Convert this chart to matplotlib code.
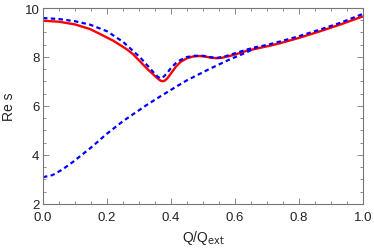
import matplotlib
matplotlib.use("Agg")
import matplotlib.pyplot as plt
from matplotlib.ticker import MultipleLocator

# Red solid curve (exact)
q_red = [0.0, 0.05, 0.10, 0.147, 0.178, 0.22, 0.26, 0.281, 0.303, 0.33, 0.35, 0.36, 0.368, 0.374, 0.38, 0.388, 0.40, 0.415, 0.43, 0.45, 0.469, 0.49, 0.51, 0.525, 0.543, 0.56, 0.58, 0.60, 0.636, 0.68, 0.709, 0.74, 0.80, 0.866, 0.93, 1.0]
v_red = [9.48, 9.44, 9.33, 9.14, 8.94, 8.66, 8.33, 8.12, 7.82, 7.46, 7.22, 7.10, 7.03, 7.01, 7.03, 7.12, 7.33, 7.60, 7.80, 7.95, 8.02, 8.04, 8.01, 7.97, 7.95, 7.97, 8.03, 8.10, 8.25, 8.38, 8.46, 8.56, 8.78, 9.05, 9.33, 9.66]

# Blue dashed, upper branch
q_up = [0.0, 0.05, 0.10, 0.147, 0.20, 0.25, 0.303, 0.33, 0.35, 0.358, 0.366, 0.374, 0.385, 0.40, 0.415, 0.43, 0.45, 0.475, 0.50, 0.525, 0.543, 0.57, 0.60, 0.636, 0.67]
v_up = [9.59, 9.55, 9.46, 9.32, 9.05, 8.62, 7.99, 7.60, 7.30, 7.20, 7.13, 7.16, 7.30, 7.55, 7.75, 7.88, 8.00, 8.05, 8.05, 7.99, 7.96, 8.03, 8.15, 8.30, 8.42]

# Blue dashed, lower branch
q_lo = [0.0, 0.03, 0.06, 0.095, 0.15, 0.199, 0.25, 0.324, 0.37, 0.4125, 0.45, 0.52, 0.58, 0.636, 0.668, 0.709, 0.74, 0.80, 0.866, 0.93, 1.0]
v_lo = [3.09, 3.18, 3.40, 3.73, 4.30, 4.86, 5.38, 6.04, 6.42, 6.76, 7.05, 7.51, 7.88, 8.19, 8.40, 8.52, 8.63, 8.85, 9.12, 9.40, 9.76]

x_ticks = [0.0, 0.2, 0.4, 0.6, 0.8, 1.0]
x_ticklabels = ["0.0", "0.2", "0.4", "0.6", "0.8", "1.0"]
y_ticks = [2, 4, 6, 8, 10]
y_ticklabels = ["2", "4", "6", "8", "10"]

plt.rcParams['font.family'] = ['Liberation Sans', 'DejaVu Sans']

fig = plt.figure(figsize=(3.74, 2.53), dpi=100)
ax = fig.add_axes([0.115, 0.190, 0.8556, 0.7744])

ax.plot(q_red, v_red, color='#ff0000', lw=1.7, solid_capstyle='butt', solid_joinstyle='round')
ax.plot(q_up, v_up, color='#0000ff', lw=1.6, linestyle=(0, (2.0, 1.5)))
ax.plot(q_lo, v_lo, color='#0000ff', lw=1.6, linestyle=(0, (2.0, 1.5)))

ax.set_xlim(0, 1)
ax.set_ylim(2, 10)
ax.set_xticks(x_ticks)
ax.set_xticklabels(x_ticklabels)
ax.set_yticks(y_ticks)
ax.set_yticklabels(y_ticklabels)
ax.xaxis.set_minor_locator(MultipleLocator(0.05))
ax.yaxis.set_minor_locator(MultipleLocator(0.5))

spine_col = '#777777'
for s in ax.spines.values():
    s.set_color(spine_col)
    s.set_linewidth(0.8)
ax.tick_params(which='both', direction='in', top=True, right=True, color=spine_col, width=0.6,
               labelsize=9.5, labelcolor='#222222')
ax.tick_params(which='major', length=4)
ax.tick_params(which='minor', length=2.2)
ax.tick_params(axis='x', which='major', pad=5)
ax.tick_params(axis='y', which='major', pad=2.5)

ax.set_xlabel(r"Q/Q$_{\mathrm{ext}}$", fontsize=10, color='#222222', labelpad=3.5)
ax.set_ylabel("Re s", fontsize=10, color='#222222', labelpad=6)

fig.savefig("out.png", dpi=100)
